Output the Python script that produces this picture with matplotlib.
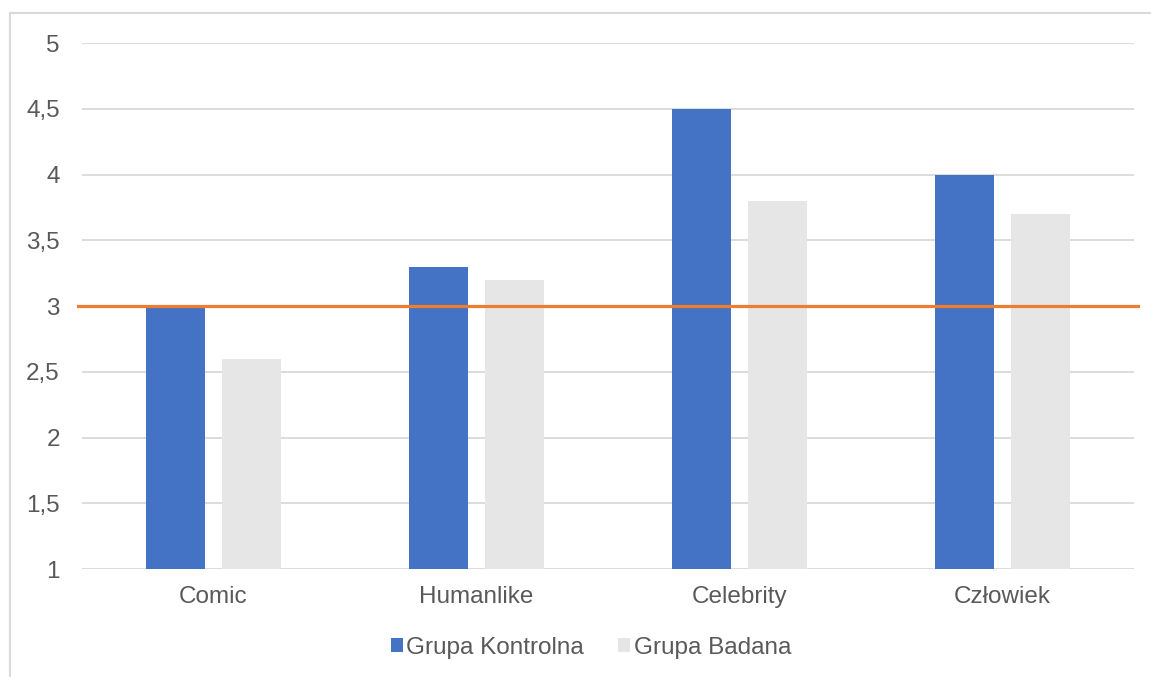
import numpy as np
import matplotlib.pyplot as plt
from matplotlib.patches import Rectangle

# dane
kategorie = ['Comic', 'Humanlike', 'Celebrity', 'Człowiek']
kontrolna = [3.0, 3.3, 4.5, 4.0]
badana = [2.6, 3.2, 3.8, 3.7]
prog = 3.0

plt.rcParams['font.family'] = ['Liberation Sans', 'DejaVu Sans']

fig = plt.figure(figsize=(11.51, 6.77), dpi=100)
ax = fig.add_axes([82 / 1151, 1 - 569 / 677, (1134 - 82) / 1151, (569 - 43) / 677])

# ramka wykresu
fig.patches.append(Rectangle((10 / 1151, -0.1), 1.2, 1 - 13 / 677 + 0.1,
                             transform=fig.transFigure, fill=False,
                             edgecolor='#d9d9d9', linewidth=1.5, zorder=0))

x = np.arange(len(kategorie))
w = 0.224
ax.bar(x - 0.143, kontrolna, w, bottom=0, color='#4472C4', zorder=3, label='Grupa Kontrolna')
ax.bar(x + 0.143, badana, w, bottom=0, color='#E6E6E6', zorder=3, label='Grupa Badana')
ax.axhline(prog, xmin=-0.004, xmax=1.004, color='#ED7D31', linewidth=2.3, zorder=4, clip_on=False)

ax.set_ylim(1, 5)
ax.set_xlim(-0.5, 3.5)
ax.set_yticks(np.arange(1, 5.01, 0.5))
ax.set_yticklabels([f'{v:g}'.replace('.', ',') for v in np.arange(1, 5.01, 0.5)])
ax.set_xticks(x)
ax.set_xticklabels(kategorie)
ax.grid(axis='y', color='#d9d9d9', linewidth=1.3, zorder=0)
ax.tick_params(length=0, labelsize=17.5, labelcolor='#595959')
ax.tick_params(axis='y', pad=16)
ax.tick_params(axis='x', pad=12)
for s in ax.spines.values():
    s.set_visible(False)

fig.legend(loc='center', bbox_to_anchor=(591 / 1151, 1 - 648 / 677), ncol=2, frameon=False,
           fontsize=17.5, labelcolor='#595959', handlelength=0.5, handleheight=0.5,
           handletextpad=0.15, columnspacing=1.4)

fig.savefig('out.png', dpi=100)
